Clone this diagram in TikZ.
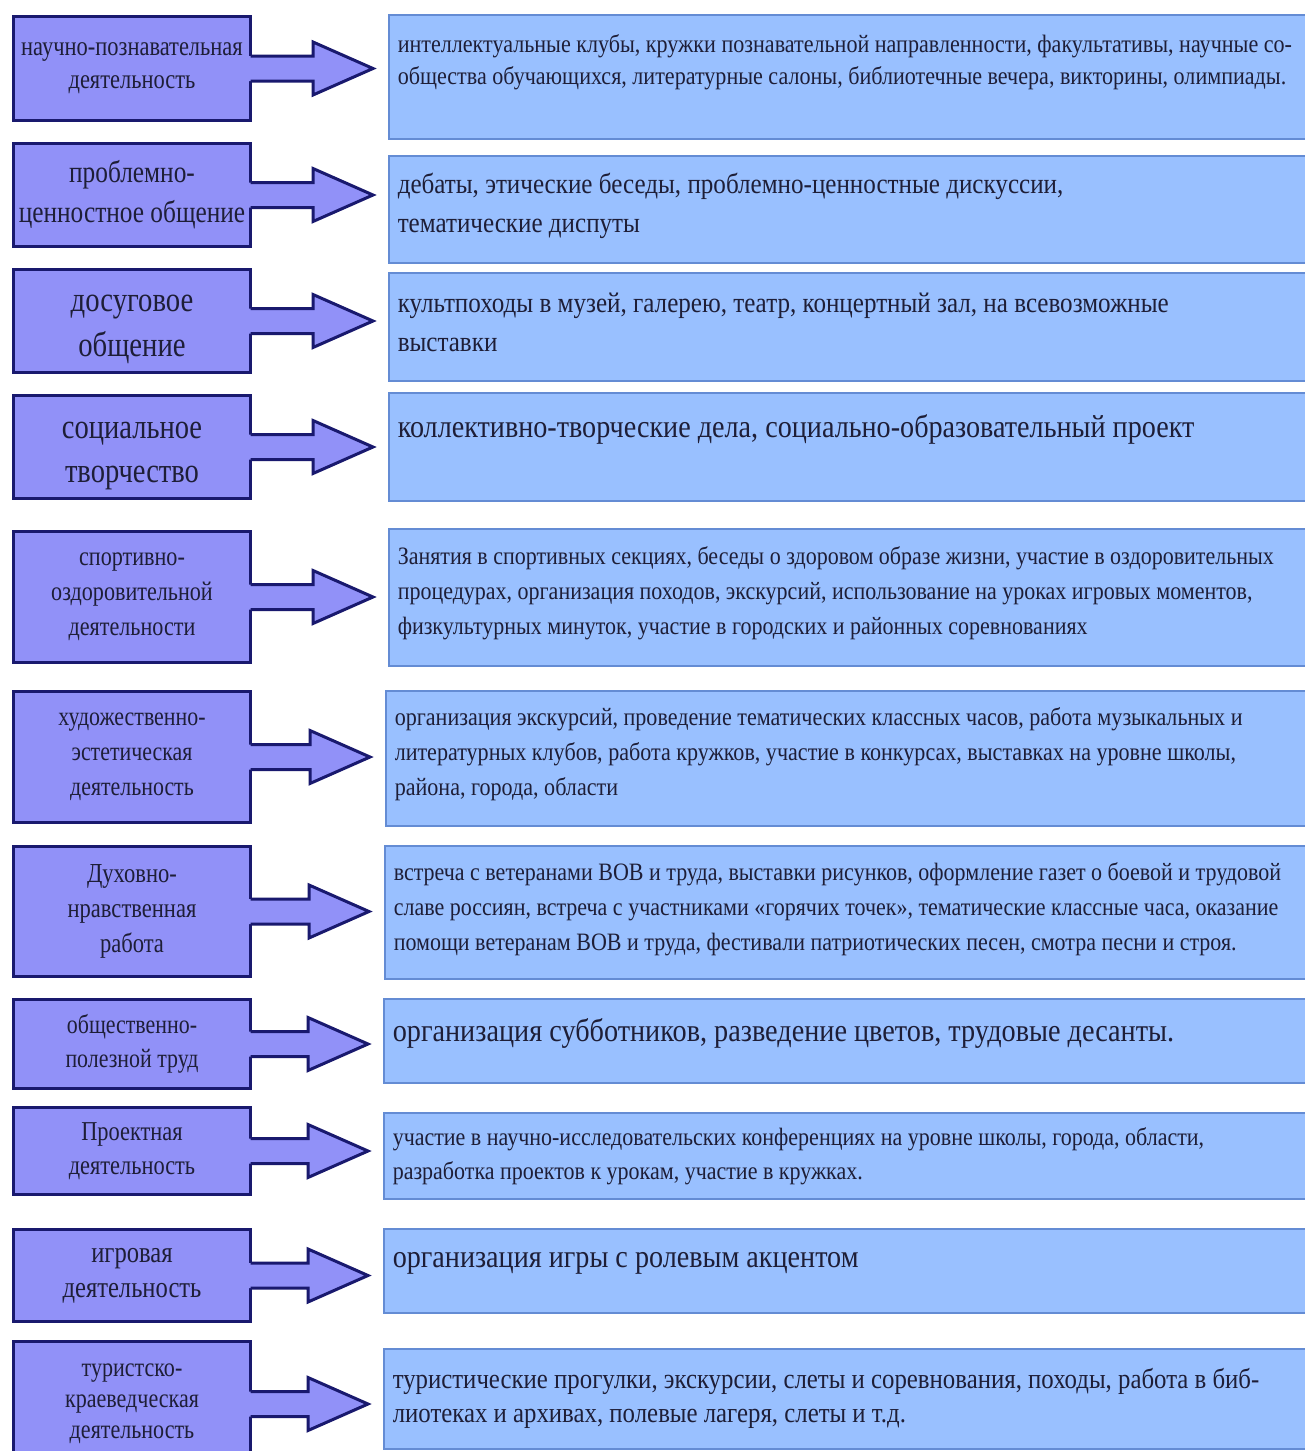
\documentclass[tikz,border=0pt]{standalone}
\usepackage{fontspec}
\setmainfont[FakeStretch=0.88]{Liberation Serif}
\newfontfamily\labelfont[FakeStretch=0.82]{Liberation Serif}
\usetikzlibrary{calc}

\definecolor{catfill}{RGB}{145,145,248}
\definecolor{catline}{RGB}{25,25,110}
\definecolor{descfill}{RGB}{153,192,255}
\definecolor{descline}{RGB}{100,140,212}
\definecolor{ink}{RGB}{30,30,55}

\tikzset{
  catbox/.style={draw=catline, fill=catfill, line width=3pt, anchor=north west,
    minimum width=237pt, align=center, text=ink, inner sep=0pt},
  descbox/.style={draw=descline, fill=descfill, line width=1.5pt, anchor=north west,
    inner xsep=9pt, inner ysep=0pt, text=ink},
  arrowedge/.style={draw=catline, line width=3pt},
}

% label font: size, skip
\newcommand{\lf}[2]{\labelfont\fontsize{#1pt}{#2pt}\selectfont}

% text of a description box: height, size, skip, top pad, text
\newcommand{\desc}[5]{\parbox[c][#1pt][t]{910pt}{\vspace*{#4pt}\raggedright
  \fontsize{#2pt}{#3pt}\selectfont\strut #5}}

% wide arrow from a category box to its description box
\newcommand{\blockarrow}[2]{%
  \coordinate (s) at (#1.east);
  \coordinate (t) at ($(#2.west |- #1.east)+(-15,0)$);
  \fill[catfill] ($(s)+(-3,-12.5)$) -| ($(t)+(-60,-26.5)$) -- (t)
    -- ($(t)+(-60,26.5)$) |- ($(s)+(-3,12.5)$) -- cycle;
  \draw[arrowedge] ($(s)+(-1.5,-12.5)$) -| ($(t)+(-60,-26.5)$) -- (t)
    -- ($(t)+(-60,26.5)$) |- ($(s)+(-1.5,12.5)$);
}

\begin{document}
\begin{tikzpicture}[x=1pt,y=-1pt]
  \useasboundingbox (0,0) rectangle (1305,1451);
  \fill[white] (0,0) rectangle (1305,1451);

  % descriptions
  \node[descbox] (d1) at (388,14) {\desc{124}{25.1}{32}{15.5}{интеллектуальные клубы, кружки познавательной направленности, факультативы,  научные со-\\общества обучающихся, литературные салоны, библиотечные вечера, викторины, олимпиады.}};
  \node[descbox] (d2) at (388,155) {\desc{107}{28.5}{39}{10.5}{дебаты, этические беседы, проблемно-ценностные дискуссии,\\тематические диспуты}};
  \node[descbox] (d3) at (388,272) {\desc{108}{28.5}{39}{12.5}{культпоходы в музей, галерею, театр, концертный зал, на всевозможные\\выставки}};
  \node[descbox] (d4) at (388,392) {\desc{108}{32}{38}{18}{коллективно-творческие дела, социально-образовательный проект}};
  \node[descbox] (d5) at (388,528) {\desc{137}{25}{35}{11.5}{Занятия в спортивных секциях, беседы о здоровом образе жизни, участие в оздоровительных\\процедурах, организация походов, экскурсий, использование на уроках игровых моментов,\\физкультурных минуток, участие в городских и районных соревнованиях}};
  \node[descbox] (d6) at (385,690) {\desc{135}{25.1}{35}{10.5}{организация экскурсий, проведение тематических классных часов, работа музыкальных и\\литературных клубов, работа кружков, участие в конкурсах, выставках на уровне школы,\\района, города, области}};
  \node[descbox] (d7) at (384,845) {\desc{133}{25}{35}{10.5}{встреча с ветеранами ВОВ и труда, выставки рисунков, оформление газет о боевой и трудовой\\славе россиян, встреча с участниками «горячих точек», тематические классные часа, оказание\\помощи ветеранам ВОВ и труда, фестивали патриотических песен, смотра песни и строя.}};
  \node[descbox] (d8) at (383,998) {\desc{84}{32.1}{36}{18}{организация субботников, разведение цветов, трудовые десанты.}};
  \node[descbox] (d9) at (383,1112) {\desc{86}{25}{34}{9}{участие в научно-исследовательских конференциях на уровне школы, города, области,\\разработка проектов к урокам, участие в кружках.}};
  \node[descbox] (d10) at (383,1228) {\desc{84}{32}{38}{12}{организация игры с ролевым акцентом}};
  \node[descbox] (d11) at (383,1348) {\desc{100}{28.2}{34}{16}{туристические прогулки, экскурсии, слеты и соревнования, походы, работа в биб-\\лиотеках и архивах, полевые лагеря, слеты и т.д.}};

  % categories
  \node[catbox, minimum height=104pt, font=\lf{27.4}{33}] (c1) at (12,15) {научно-познавательная\\деятельность};
  \node[catbox, minimum height=103pt, font=\lf{30.9}{40}] (c2) at (12,142) {проблемно-\\ценностное общение};
  \node[catbox, minimum height=103pt, font=\lf{35}{45}] (c3) at (12,268) {\rule{0pt}{40pt}досуговое\\общение\strut};
  \node[catbox, minimum height=103pt, font=\lf{34.8}{44}] (c4) at (12,394) {\rule{0pt}{40pt}социальное\\творчество\strut};
  \node[catbox, minimum height=131pt, font=\lf{27}{35}] (c5) at (12,530) {спортивно-\\оздоровительной\\деятельности};
  \node[catbox, minimum height=131pt, font=\lf{26.7}{35}] (c6) at (12,690) {художественно-\\эстетическая\\деятельность};
  \node[catbox, minimum height=130pt, font=\lf{27.5}{35}] (c7) at (12,845) {Духовно-\\нравственная\\работа};
  \node[catbox, minimum height=89pt, font=\lf{26.7}{34}] (c8) at (12,998) {общественно-\\полезной труд};
  \node[catbox, minimum height=87pt, font=\lf{27.3}{34}] (c9) at (12,1106) {Проектная\\деятельность};
  \node[catbox, minimum height=92pt, font=\lf{30}{35}] (c10) at (12,1228) {игровая\\деятельность};
  \node[catbox, minimum height=125pt, font=\lf{26.9}{31}] (c11) at (12,1340) {туристско-\\краеведческая\\деятельность};

  % arrows
  \foreach \i in {1,...,11} {\blockarrow{c\i}{d\i}}
\end{tikzpicture}
\end{document}
